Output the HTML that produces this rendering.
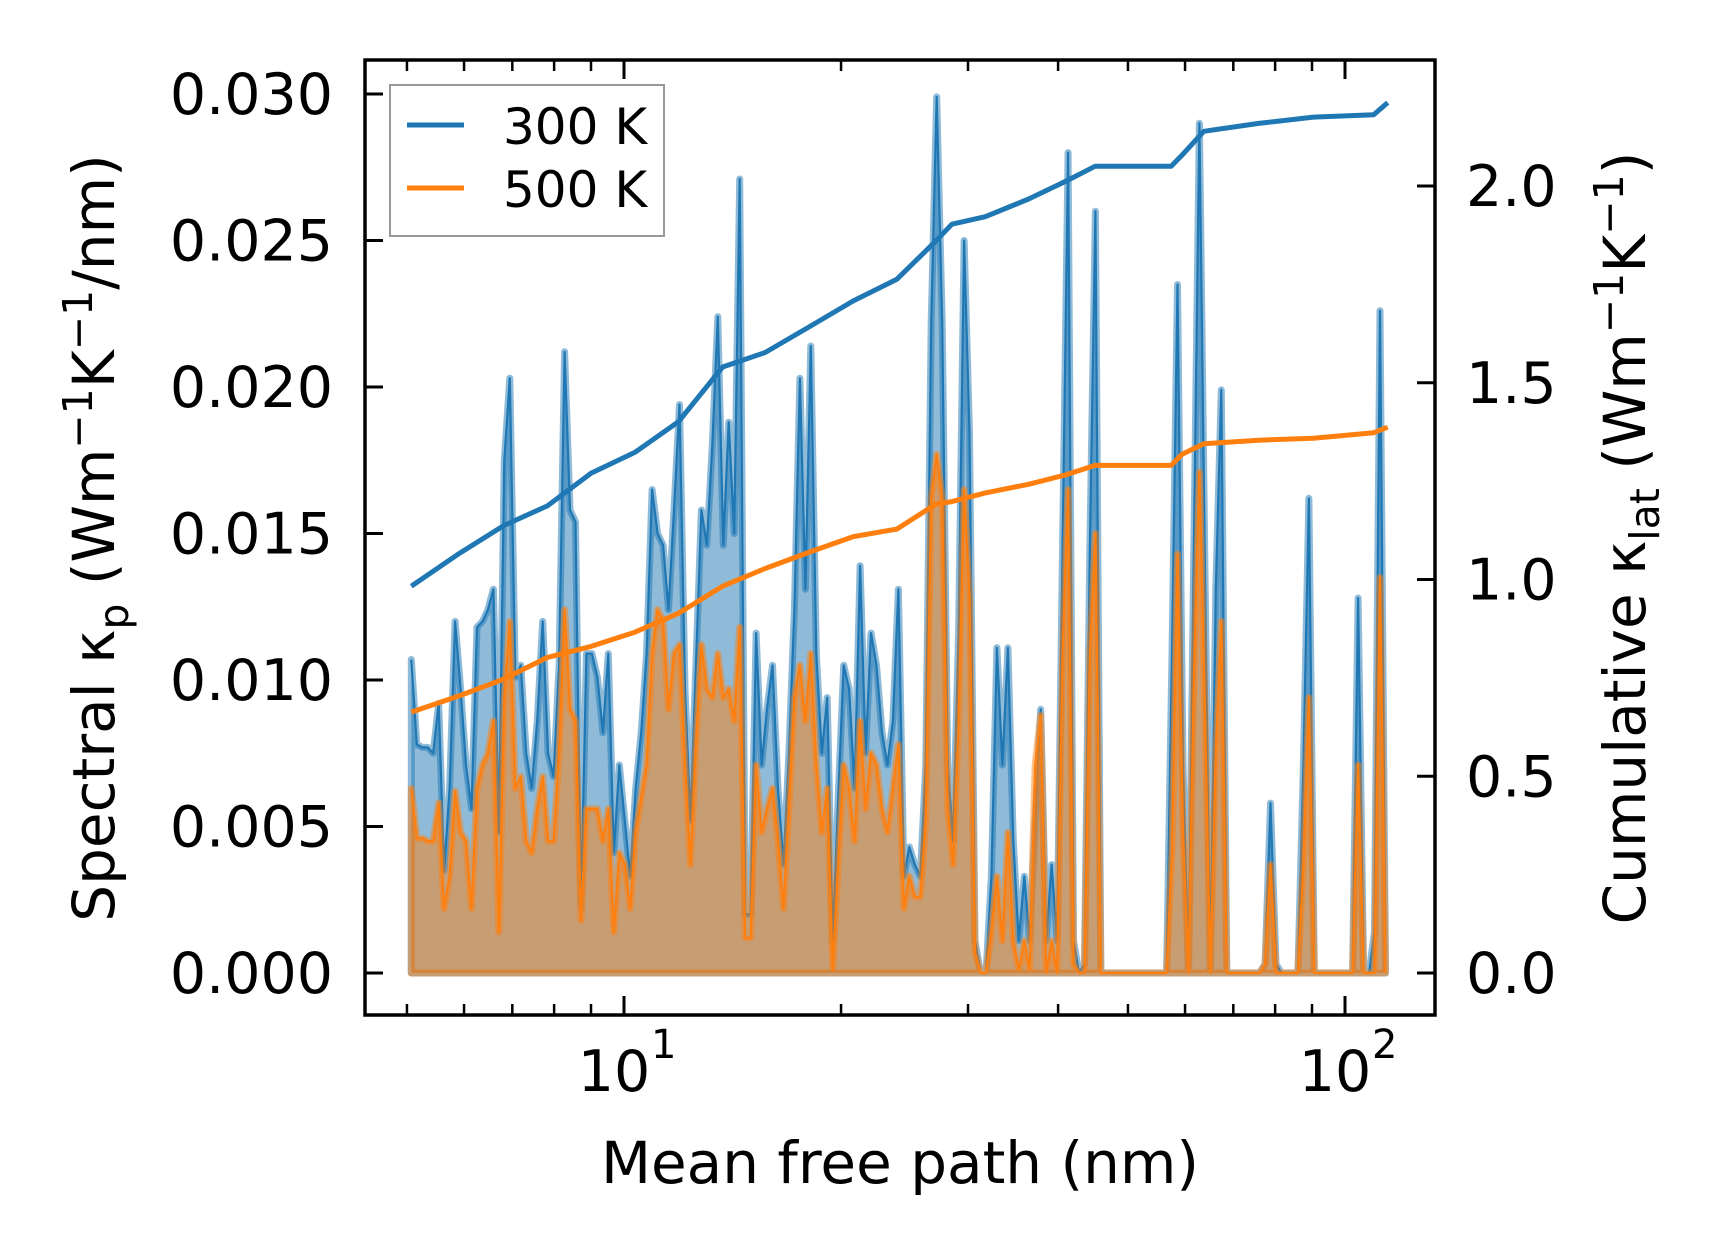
<!DOCTYPE html>
<html><head><meta charset="utf-8">
<style>
html,body{margin:0;padding:0;background:#fff;}
svg{display:block;font-family:"DejaVu Sans","Liberation Sans",sans-serif;}
</style></head>
<body>
<svg id="chart" width="1716" height="1254" viewBox="0 0 1716 1254" xmlns="http://www.w3.org/2000/svg"></svg>
<script>
// ---- data ----
const mfpStart = 5.07, mfpEnd = 113.8; // bin range (nm)
const spec300 = [10.7,7.8,7.7,7.7,7.5,9.2,3.5,6.3,12.0,9.7,7.1,5.6,11.8,12.0,12.4,13.1,4.8,17.5,20.3,10.1,10.5,7.5,6.3,8.6,12.0,7.5,6.7,10.5,21.2,15.8,15.4,2.2,10.9,10.9,10.1,8.2,10.9,4.1,7.1,5.2,3.3,6.3,8.2,10.9,16.5,15.0,14.6,12.4,15.8,19.4,9.7,5.2,10.5,15.8,14.6,18.0,22.4,14.6,18.8,15.0,27.1,2.0,2.0,11.6,7.1,9.0,10.5,6.3,3.7,7.5,12.4,20.3,13.1,21.4,10.9,7.5,9.4,1.1,6.0,10.5,9.7,6.3,13.9,7.5,11.6,10.5,8.2,7.1,8.6,13.1,3.3,4.3,3.7,3.3,7.1,22.2,29.9,22.2,7.1,4.5,11.6,25.0,18.4,1.1,0,0,3.3,11.1,7.1,11.1,4.5,1.1,3.3,1.1,5.2,9.0,1.1,3.7,1.1,14.6,28.0,1.1,0,0.3,14.6,26.0,0,0,0,0,0,0,0,0,0,0,0,0,0,10.9,23.5,7.1,0,14.6,29.0,13.9,0,13.1,19.9,0,0,0,0,0,0,0,0.3,5.8,0.3,0,0,0,0,7.1,16.2,0,0,0,0,0,0,0,0,12.8,0,0,1.4,22.6,0];
const spec500 = [6.3,4.6,4.6,4.5,4.5,5.8,2.2,3.3,6.2,4.8,4.5,2.2,6.3,7.1,7.5,8.6,1.4,9.4,12.0,6.3,6.7,4.5,4.1,5.6,6.7,4.5,4.5,7.5,12.4,9.0,8.6,1.8,5.6,5.6,5.6,4.5,5.6,1.4,4.1,3.7,2.2,4.8,6.0,7.1,10.9,12.4,12.0,9.0,10.9,11.2,7.1,3.7,7.8,11.2,9.7,9.4,10.9,9.4,9.7,8.6,11.8,1.2,1.2,7.1,4.8,5.6,6.3,4.5,2.2,5.6,9.4,10.5,8.6,10.9,7.1,4.8,6.3,0.1,3.7,7.1,6.3,4.5,8.6,5.6,7.5,7.1,5.6,4.8,6.3,7.8,2.2,3.3,2.6,2.6,5.2,16.2,17.7,16.2,5.6,3.7,8.6,16.5,12.8,0.7,0,0,1.4,3.3,1.1,4.8,1.1,0.1,1.1,0.1,7.1,8.8,0,1.1,0,10.9,16.5,0.3,0,0,10.9,15.0,0,0,0,0,0,0,0,0,0,0,0,0,0,4.1,14.3,4.8,0,10.1,17.1,9.0,0,7.5,12.0,0,0,0,0,0,0,0,0.3,3.7,0,0,0,0,0,3.7,9.4,0,0,0,0,0,0,0,0,7.1,0,0,0,13.5,0];
const cumMfp = [5.07,5.92,6.81,7.83,9.00,10.35,11.9,13.7,15.7,18.1,20.8,23.9,27.1,28.5,31.7,36.4,41.2,45.0,57.4,59.4,63.7,75.9,90.4,109.6,114.6];
const cum300 = [0.983,1.067,1.137,1.187,1.27,1.323,1.401,1.54,1.577,1.643,1.708,1.763,1.861,1.903,1.922,1.967,2.014,2.05,2.05,2.078,2.139,2.159,2.175,2.181,2.212];
const cum500 = [0.663,0.705,0.747,0.802,0.83,0.866,0.914,0.983,1.028,1.07,1.109,1.128,1.192,1.198,1.22,1.242,1.267,1.29,1.29,1.318,1.345,1.354,1.359,1.373,1.387];
const leftTicks = [0,0.005,0.010,0.015,0.020,0.025,0.030];
const leftTickLabels = ["0.000","0.005","0.010","0.015","0.020","0.025","0.030"];
const rightTicks = [0,0.5,1.0,1.5,2.0];
const rightTickLabels = ["0.0","0.5","1.0","1.5","2.0"];
const xMajor = [10,100];
const xMajorExp = ["1","2"];
const xMinor = [5,6,7,8,9,20,30,40,50,60,70,80,90];

// ---- geometry ----
const L=365,R=1435,T=60,B=1015;
const xs = v => 624 + 721*(Math.log10(v)-1);
const yl = v => 973 - v*29300;
const yr = v => 973 - v*393.5;
const NS="http://www.w3.org/2000/svg";
const svg=document.getElementById('chart');
function mk(tag,attrs,parent){const e=document.createElementNS(NS,tag);for(const k in attrs)e.setAttribute(k,attrs[k]);(parent||svg).appendChild(e);return e;}

const n = spec300.length;
const bins = spec300.map((_,i)=>Math.pow(10, Math.log10(mfpStart)+(Math.log10(mfpEnd)-Math.log10(mfpStart))*i/(n-1)));

function drawSpec(vals,color,name){
  const pts = vals.map((v,i)=>xs(bins[i]).toFixed(1)+','+yl(v/1000).toFixed(1));
  const area = 'M'+xs(bins[0]).toFixed(1)+','+yl(0)+' L'+pts.join(' L')+' L'+xs(bins[n-1]).toFixed(1)+','+yl(0)+' Z';
  const f=mk('path',{d:area,fill:color,'fill-opacity':0.5,stroke:color,'stroke-opacity':0.5,'stroke-width':7,'stroke-linejoin':'round'});
  
  
  const l=mk('polyline',{points:pts.join(' '),fill:'none',stroke:color,'stroke-width':2.2,'stroke-linejoin':'round'});
  
  
}
drawSpec(spec300,'#1f77b4','spectral-300k');
drawSpec(spec500,'#ff7f0e','spectral-500k');

function drawCum(vals,color,name){
  const pts = vals.map((v,i)=>xs(cumMfp[i]).toFixed(1)+','+yr(v).toFixed(1)).join(' ');
  const l=mk('polyline',{points:pts,fill:'none',stroke:color,'stroke-width':5,'stroke-linejoin':'round'});
  
  
}
drawCum(cum300,'#1f77b4','cumulative-300k');
drawCum(cum500,'#ff7f0e','cumulative-500k');

// frame
const fr=mk('rect',{x:L,y:T,width:R-L,height:B-T,fill:'none',stroke:'#000','stroke-width':3.5});



// left ticks
leftTicks.forEach((v,i)=>{
  const y=yl(v);
  mk('line',{x1:L,x2:L+18,y1:y,y2:y,stroke:'#000','stroke-width':3});
  const t=mk('text',{x:333,y:y+20,'text-anchor':'end','font-size':57,fill:'#000'});
  t.textContent=leftTickLabels[i];
  
  
});
// right ticks
rightTicks.forEach((v,i)=>{
  const y=yr(v);
  mk('line',{x1:R-18,x2:R,y1:y,y2:y,stroke:'#000','stroke-width':3});
  const t=mk('text',{x:1466,y:y+20,'text-anchor':'start','font-size':57,fill:'#000'});
  t.textContent=rightTickLabels[i];
  
  
});
// x ticks
xMajor.forEach((v,i)=>{
  const x=xs(v);
  mk('line',{x1:x,x2:x,y1:B,y2:B-19,stroke:'#000','stroke-width':3});
  mk('line',{x1:x,x2:x,y1:T,y2:T+19,stroke:'#000','stroke-width':3});
  const t=mk('text',{x:x-10,y:1091,'text-anchor':'middle','font-size':57,fill:'#000'});
  t.textContent='10';
  
  
  const s=mk('text',{x:x+27,y:1058,'text-anchor':'start','font-size':40,fill:'#000'});
  s.textContent=xMajorExp[i];
  
  
});
xMinor.forEach(v=>{
  const x=xs(v);
  mk('line',{x1:x,x2:x,y1:B,y2:B-11,stroke:'#000','stroke-width':2.5});
  mk('line',{x1:x,x2:x,y1:T,y2:T+11,stroke:'#000','stroke-width':2.5});
});

// axis labels
const xl=mk('text',{x:900,y:1183,'text-anchor':'middle','font-size':58,fill:'#000'});
xl.textContent='Mean free path (nm)';



const yl1=mk('text',{x:0,y:0,'text-anchor':'middle','font-size':58,fill:'#000',transform:'translate(114,538) rotate(-90)'});
yl1.innerHTML='Spectral κ<tspan font-size="41" dy="14">p</tspan><tspan dy="-14"> (Wm</tspan><tspan font-size="41" dy="-22">−1</tspan><tspan dy="22">K</tspan><tspan font-size="41" dy="-22">−1</tspan><tspan dy="22">/nm)</tspan>';



const yl2=mk('text',{x:0,y:0,'text-anchor':'middle','font-size':58,fill:'#000',transform:'translate(1645,538) rotate(-90)'});
yl2.innerHTML='Cumulative κ<tspan font-size="41" dy="14">lat</tspan><tspan dy="-14"> (Wm</tspan><tspan font-size="41" dy="-22">−1</tspan><tspan dy="22">K</tspan><tspan font-size="41" dy="-22">−1</tspan><tspan dy="22">)</tspan>';



// legend
const lg=mk('g',{});


mk('rect',{x:390,y:85,width:274,height:151,fill:'#fff','fill-opacity':0.8,stroke:'#999','stroke-width':2},lg);
mk('line',{x1:407,x2:464,y1:125,y2:125,stroke:'#1f77b4','stroke-width':5},lg);
mk('line',{x1:407,x2:464,y1:188,y2:188,stroke:'#ff7f0e','stroke-width':5},lg);
const t1=mk('text',{x:503,y:144,'font-size':50,fill:'#000'},lg);
t1.textContent='300 K';


const t2=mk('text',{x:503,y:207,'font-size':50,fill:'#000'},lg);
t2.textContent='500 K';


</script>
</body></html>
